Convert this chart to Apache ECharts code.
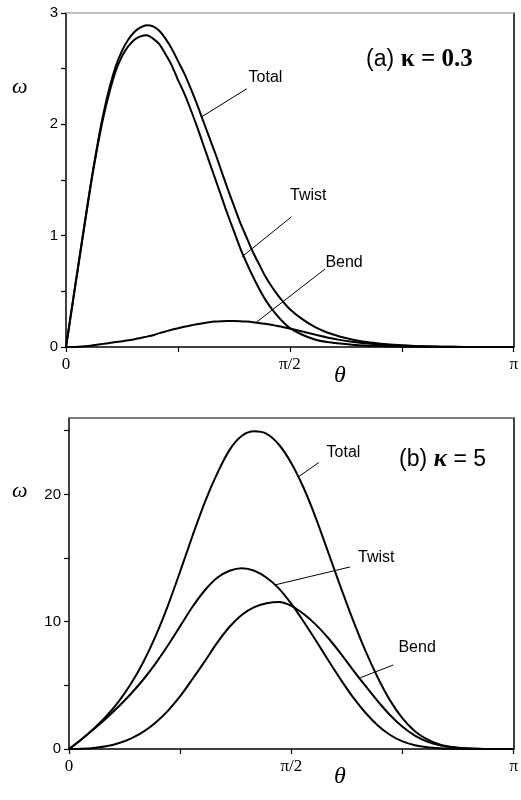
<!DOCTYPE html>
<html>
<head>
<meta charset="utf-8">
<script src="https://cdn.jsdelivr.net/npm/echarts@6/dist/echarts.min.js"></script>
<style>
  html, body { margin: 0; padding: 0; background: #fff; }
  #chart { width: 521px; height: 800px; }
</style>
</head>
<body>
<div id="chart"></div>
<script>
// panel (a), kappa = 0.3 ; theta in degrees
var thetaA = [0, 2.5, 5, 7.5, 10, 12.5, 15, 17.5, 20, 22.5, 25, 27.5, 30, 32.5, 35, 37.5, 40, 42.5, 45, 47.5,
  50, 52.5, 55, 57.5, 60, 62.5, 65, 67.5, 70, 72.5, 75, 77.5, 80, 82.5, 85, 87.5, 90,
  95, 100, 105, 110, 115, 120, 125, 130, 140, 150, 160, 170, 180];
var totalA = [0, 0.37, 0.74, 1.11, 1.47, 1.80, 2.09, 2.33, 2.52, 2.66, 2.76, 2.83, 2.87, 2.89, 2.88, 2.84, 2.77, 2.68, 2.57, 2.46,
  2.33, 2.19, 2.04, 1.89, 1.74, 1.58, 1.42, 1.27, 1.12, 0.99, 0.86, 0.75, 0.64, 0.55, 0.47, 0.40, 0.34,
  0.25, 0.18, 0.13, 0.095, 0.068, 0.048, 0.034, 0.023, 0.01, 0.004, 0.001, 0, 0];
var twistA = [0, 0.37, 0.74, 1.10, 1.46, 1.78, 2.06, 2.29, 2.48, 2.61, 2.70, 2.76, 2.79, 2.80, 2.77, 2.72, 2.63, 2.53, 2.40, 2.28,
  2.14, 1.99, 1.83, 1.67, 1.51, 1.35, 1.19, 1.04, 0.89, 0.76, 0.64, 0.53, 0.43, 0.35, 0.28, 0.22, 0.17,
  0.11, 0.068, 0.044, 0.031, 0.021, 0.014, 0.01, 0.006, 0.002, 0.001, 0, 0, 0];
var bendA = [0, 0, 0.002, 0.006, 0.012, 0.02, 0.028, 0.036, 0.044, 0.052, 0.06, 0.07, 0.081, 0.093, 0.106, 0.125, 0.14, 0.155, 0.168, 0.181,
  0.193, 0.204, 0.214, 0.222, 0.228, 0.232, 0.234, 0.234, 0.232, 0.228, 0.223, 0.216, 0.208, 0.199, 0.189, 0.178, 0.166,
  0.14, 0.112, 0.086, 0.064, 0.047, 0.034, 0.024, 0.017, 0.008, 0.003, 0.001, 0, 0];

// panel (b), kappa = 5
var thetaB = [0, 5, 10, 15, 20, 25, 30, 35, 40, 45, 50, 55, 60, 65, 70, 75, 80, 85, 90,
  95, 100, 105, 110, 115, 120, 125, 130, 135, 140, 145, 150, 155, 160, 165, 170, 175, 180];
var totalB = [0, 0.75, 1.6, 2.55, 3.7, 5.1, 6.8, 8.85, 11.25, 13.95, 16.75, 19.4, 21.65, 23.5, 24.6, 24.95, 24.75, 23.9, 22.45,
  20.5, 18.1, 15.4, 12.7, 10.1, 7.7, 5.6, 3.8, 2.4, 1.4, 0.75, 0.35, 0.15, 0.05, 0.015, 0, 0, 0];
var twistB = [0, 0.75, 1.55, 2.4, 3.32, 4.32, 5.44, 6.71, 8.13, 9.65, 11.17, 12.47, 13.45, 14.0, 14.2, 14.0, 13.45, 12.6, 11.4,
  10.0, 8.5, 6.95, 5.45, 4.05, 2.85, 1.85, 1.1, 0.6, 0.3, 0.14, 0.06, 0.02, 0.005, 0, 0, 0, 0];
var bendB = [0, 0.02, 0.08, 0.21, 0.45, 0.82, 1.35, 2.07, 3.0, 4.15, 5.5, 6.9, 8.35, 9.6, 10.55, 11.15, 11.45, 11.55, 11.25,
  10.6, 9.75, 8.7, 7.5, 6.2, 4.95, 3.75, 2.65, 1.75, 1.05, 0.58, 0.29, 0.13, 0.05, 0.015, 0, 0, 0];

var xTicks = [0, 45, 90, 135, 180];
var xLabels = [0, 90, 180];
var xLabelText = { 0: '0', 90: 'π/2', 180: 'π' };
var yTicksA = [0, 0.5, 1, 1.5, 2, 2.5, 3];
var yLabelsA = [0, 1, 2, 3];
var yTicksB = [0, 5, 10, 15, 20, 25];
var yLabelsB = [0, 10, 20];

function pairs(xs, ys) {
  return xs.map(function (x, i) { return [x, ys[i]]; });
}

function bottomAxis(gi) {
  return {
    type: 'value', gridIndex: gi, position: 'bottom', min: 0, max: 180,
    axisLine: { onZero: false, lineStyle: { color: '#000', width: 1.5 } },
    axisTick: { customValues: xTicks, length: 5, lineStyle: { color: '#000', width: 1.2 } },
    axisLabel: {
      customValues: xLabels, margin: 9, color: '#000',
      fontFamily: 'Liberation Serif', fontSize: 17,
      formatter: function (v) { return xLabelText[v] || ''; }
    },
    splitLine: { show: false }
  };
}
// top edge of the frame
function frameX(gi, col) {
  return {
    type: 'value', gridIndex: gi, position: 'top', min: 0, max: 1,
    axisLine: { show: true, onZero: false, lineStyle: { color: col, width: 1.5 } },
    axisTick: { show: false }, axisLabel: { show: false }, splitLine: { show: false }
  };
}
function leftAxis(gi, max, ticks, labels) {
  return {
    type: 'value', gridIndex: gi, position: 'left', min: 0, max: max,
    axisLine: { show: true, onZero: false, lineStyle: { color: '#000', width: 1.5 } },
    axisTick: { show: true, customValues: ticks, length: 5, lineStyle: { color: '#000', width: 1.2 } },
    axisLabel: { customValues: labels, margin: 8, color: '#000', fontFamily: 'Liberation Sans', fontSize: 15 },
    splitLine: { show: false }
  };
}
// right edge of the frame
function frameY(gi) {
  return {
    type: 'value', gridIndex: gi, position: 'right', min: 0, max: 1,
    axisLine: { show: true, onZero: false, lineStyle: { color: '#000', width: 1.5 } },
    axisTick: { show: false }, axisLabel: { show: false }, splitLine: { show: false }
  };
}

function curve(name, xi, yi, xs, ys, lead, txt) {
  return {
    name: name, type: 'line', xAxisIndex: xi, yAxisIndex: yi,
    data: pairs(xs, ys), showSymbol: false, smooth: 0.3,
    lineStyle: { color: '#000', width: 2 },
    markLine: {
      silent: true, symbol: ['none', 'none'], label: { show: false },
      lineStyle: { color: '#000', width: 1, type: 'solid' },
      data: [[{ coord: lead[0] }, { coord: lead[1] }]]
    },
    markPoint: {
      silent: true, symbolSize: 0,
      label: { show: true, position: 'inside', color: '#000', fontFamily: 'Liberation Sans', fontSize: 16, formatter: name },
      data: [{ coord: txt }]
    }
  };
}

var chart = echarts.init(document.getElementById('chart'));
chart.setOption({
  animation: false,
  backgroundColor: '#fff',
  grid: [
    { left: 66, top: 13, right: 5, height: 334 },
    { left: 69, top: 418, right: 5, height: 331 }
  ],
  xAxis: [bottomAxis(0), frameX(0, '#aaa'), bottomAxis(1), frameX(1, '#555')],
  yAxis: [leftAxis(0, 3, yTicksA, yLabelsA), frameY(0), leftAxis(1, 26, yTicksB, yLabelsB), frameY(1)],
  series: [
    curve('Total', 0, 0, thetaA, totalA, [[72.7, 2.32], [54.7, 2.07]], [80.2, 2.42]),
    curve('Twist', 0, 0, thetaA, twistA, [[90.7, 1.17], [70.7, 0.81]], [97.4, 1.36]),
    curve('Bend', 0, 0, thetaA, bendA, [[104.1, 0.70], [76.7, 0.225]], [111.8, 0.76]),
    curve('Total', 2, 2, thetaB, totalB, [[101.1, 22.5], [93, 21.4]], [111.1, 23.3]),
    curve('Twist', 2, 2, thetaB, twistB, [[113.8, 14.3], [83.6, 12.9]], [124.4, 15.0]),
    curve('Bend', 2, 2, thetaB, bendB, [[131.3, 6.6], [117.9, 5.6]], [140.9, 8.0])
  ],
  graphic: [
    { type: 'text', left: 12, top: 76, style: { text: 'ω', font: 'italic 22px "Liberation Serif"', fill: '#000' } },
    { type: 'text', left: 12, top: 480, style: { text: 'ω', font: 'italic 22px "Liberation Serif"', fill: '#000' } },
    { type: 'text', left: 334, top: 364, style: { text: 'θ', font: 'italic 24px "Liberation Serif"', fill: '#000' } },
    { type: 'text', left: 334, top: 765, style: { text: 'θ', font: 'italic 24px "Liberation Serif"', fill: '#000' } },
    {
      type: 'text', left: 366, top: 47,
      style: {
        text: '{a|(a)}  {k|κ = 0.3}', fill: '#000',
        rich: {
          a: { fontFamily: 'Liberation Sans', fontSize: 23 },
          k: { fontFamily: 'Liberation Serif', fontWeight: 'bold', fontSize: 25 }
        }
      }
    },
    {
      type: 'text', left: 399, top: 447,
      style: {
        text: '{a|(b)}  {k|κ}{e| = 5}', fill: '#000',
        rich: {
          a: { fontFamily: 'Liberation Sans', fontSize: 23 },
          k: { fontFamily: 'Liberation Serif', fontStyle: 'italic', fontWeight: 'bold', fontSize: 25 },
          e: { fontFamily: 'Liberation Sans', fontSize: 23 }
        }
      }
    }
  ]
});
</script>
</body>
</html>
